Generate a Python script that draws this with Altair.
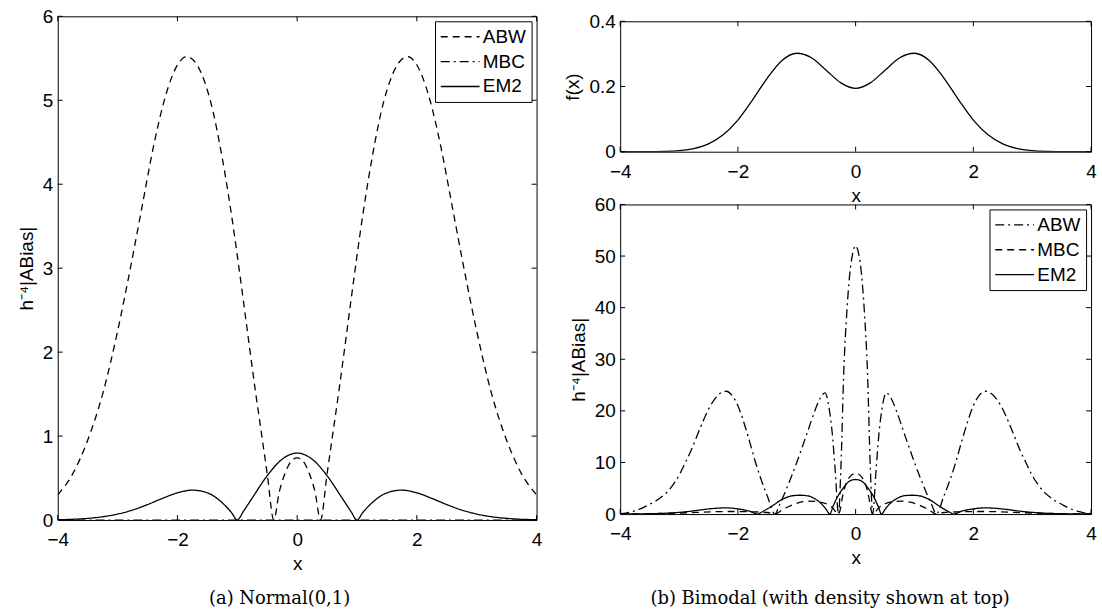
import altair as alt
import pandas as pd

SANS = "Liberation Sans"
SERIF = "DejaVu Serif"
FS = 19

# ---------------- (a) Normal(0,1) ----------------
a_abw_x = [-4.0, -3.75, -3.5, -3.25, -3.0, -2.8, -2.6, -2.4, -2.2, -2.0, -1.85, -1.7, -1.6, -1.5, -1.4,
           -1.3, -1.2, -1.1, -1.0, -0.9, -0.8, -0.7, -0.6, -0.5, -0.39, -0.3, -0.2, -0.1, 0.0,
           0.1, 0.2, 0.3, 0.39, 0.5, 0.6, 0.7, 0.8, 0.9, 1.0, 1.1, 1.2, 1.3, 1.4, 1.5, 1.6, 1.7,
           1.85, 2.0, 2.2, 2.4, 2.6, 2.8, 3.0, 3.25, 3.5, 3.75, 4.0]
a_abw_y = [0.3, 0.55, 0.95, 1.5, 2.25, 2.95, 3.7, 4.45, 5.05, 5.42, 5.52, 5.45, 5.32, 5.12, 4.85,
           4.5, 4.1, 3.65, 3.15, 2.62, 2.08, 1.55, 1.05, 0.55, 0.0, 0.33, 0.56, 0.7, 0.74,
           0.7, 0.56, 0.33, 0.0, 0.55, 1.05, 1.55, 2.08, 2.62, 3.15, 3.65, 4.1, 4.5, 4.85, 5.12, 5.32, 5.45,
           5.52, 5.42, 5.05, 4.45, 3.7, 2.95, 2.25, 1.5, 0.95, 0.55, 0.3]
a_mbc_x = [-4.0, -2.0, 0.0, 2.0, 4.0]
a_mbc_y = [0.0, 0.0, 0.0, 0.0, 0.0]
a_em2_x = [-4.0, -3.75, -3.5, -3.25, -3.0, -2.75, -2.5, -2.25, -2.0, -1.75, -1.5, -1.25, -1.1, -1.0,
           -0.9, -0.75, -0.5, -0.25, 0.0, 0.25, 0.5, 0.75, 0.9, 1.0, 1.1, 1.25, 1.5, 1.75, 2.0,
           2.25, 2.5, 2.75, 3.0, 3.25, 3.5, 3.75, 4.0]
a_em2_y = [0.004, 0.009, 0.02, 0.039, 0.071, 0.119, 0.184, 0.258, 0.324, 0.356, 0.324, 0.205, 0.092, 0.0,
           0.101, 0.263, 0.528, 0.725, 0.798, 0.725, 0.528, 0.263, 0.101, 0.0, 0.092, 0.205, 0.324, 0.356, 0.324,
           0.258, 0.184, 0.119, 0.071, 0.039, 0.02, 0.009, 0.004]

# ---------------- (b) Bimodal: density ----------------
dens_x = [-4.0, -3.75, -3.5, -3.25, -3.0, -2.75, -2.5, -2.25, -2.0, -1.75, -1.5, -1.25, -1.0, -0.75, -0.5, -0.25,
          0.0, 0.25, 0.5, 0.75, 1.0, 1.25, 1.5, 1.75, 2.0, 2.25, 2.5, 2.75, 3.0, 3.25, 3.5, 3.75, 4.0]
dens_y = [0.00002, 0.0001, 0.0003, 0.001, 0.0033, 0.0095, 0.024, 0.052, 0.097, 0.159, 0.226, 0.280, 0.302, 0.288,
          0.250, 0.211, 0.194, 0.211, 0.250, 0.288, 0.302, 0.280, 0.226, 0.159, 0.097, 0.052, 0.024, 0.0095,
          0.0033, 0.001, 0.0003, 0.0001, 0.00002]

# ---------------- (b) Bimodal: bias ----------------
b_abw_x = [-4.0, -3.9, -3.8, -3.7, -3.6, -3.5, -3.4, -3.3, -3.2, -3.1, -3.0, -2.9, -2.8, -2.7, -2.6, -2.5,
           -2.4, -2.3, -2.2, -2.1, -2.0, -1.9, -1.8, -1.7, -1.6, -1.5, -1.37, -1.3, -1.2, -1.1, -1.0,
           -0.9, -0.8, -0.7, -0.6, -0.52, -0.45, -0.4, -0.35, -0.29, -0.25, -0.2, -0.15, -0.1, -0.05,
           0.0, 0.05, 0.1, 0.15, 0.2, 0.25, 0.29, 0.35, 0.4, 0.45, 0.52, 0.6, 0.7, 0.8, 0.9, 1.0,
           1.1, 1.2, 1.3, 1.37, 1.5, 1.6, 1.7, 1.8, 1.9, 2.0, 2.1, 2.2, 2.3, 2.4, 2.5, 2.6, 2.7,
           2.8, 2.9, 3.0, 3.1, 3.2, 3.3, 3.4, 3.5, 3.6, 3.7, 3.8, 3.9, 4.0]
b_abw_y = [0.08, 0.2, 0.45, 0.8, 1.3, 1.9, 2.5, 3.3, 4.3, 5.7, 7.5, 9.8, 12.2, 15.0, 17.8, 20.3,
           22.2, 23.4, 23.8, 23.0, 21.0, 17.8, 14.0, 10.0, 6.5, 3.5, 0.0, 1.6, 4.2, 7.0, 10.0,
           13.2, 16.5, 19.8, 22.5, 23.5, 20.5, 16.0, 9.0, 0.0, 9.0, 28.0, 39.0, 46.5, 50.5,
           52.0, 50.5, 46.5, 39.0, 28.0, 9.0, 0.0, 9.0, 16.0, 20.5, 23.5, 22.5, 19.8, 16.5, 13.2, 10.0,
           7.0, 4.2, 1.6, 0.0, 3.5, 6.5, 10.0, 14.0, 17.8, 21.0, 23.0, 23.8, 23.4, 22.2, 20.3, 17.8, 15.0,
           12.2, 9.8, 7.5, 5.7, 4.3, 3.3, 2.5, 1.9, 1.3, 0.8, 0.45, 0.2, 0.08]
b_mbc_x = [-4.0, -3.4, -3.0, -2.7, -2.4, -2.1, -1.8, -1.5, -1.37, -1.25, -1.1, -0.95, -0.8, -0.65, -0.5,
           -0.4, -0.29, -0.2, -0.1, 0.0, 0.1, 0.2, 0.29, 0.4, 0.5, 0.65, 0.8, 0.95, 1.1, 1.25, 1.37,
           1.5, 1.8, 2.1, 2.4, 2.7, 3.0, 3.4, 4.0]
b_mbc_y = [0.02, 0.08, 0.2, 0.33, 0.45, 0.5, 0.45, 0.3, 0.0, 0.8, 1.65, 2.25, 2.5, 2.4, 2.0,
           1.3, 0.0, 4.6, 7.2, 7.9, 7.2, 4.6, 0.0, 1.3, 2.0, 2.4, 2.5, 2.25, 1.65, 0.8, 0.0,
           0.3, 0.45, 0.5, 0.45, 0.33, 0.2, 0.08, 0.02]
b_em2_x = [-4.0, -3.8, -3.6, -3.4, -3.2, -3.0, -2.8, -2.6, -2.4, -2.2, -2.0, -1.8, -1.66, -1.6, -1.5,
           -1.4, -1.3, -1.2, -1.1, -0.95, -0.8, -0.7, -0.6, -0.5, -0.44, -0.38, -0.3, -0.2, -0.1,
           0.0, 0.1, 0.2, 0.3, 0.38, 0.44, 0.5, 0.6, 0.7, 0.8, 0.95, 1.1, 1.2, 1.3, 1.4, 1.5,
           1.6, 1.66, 1.8, 2.0, 2.2, 2.4, 2.6, 2.8, 3.0, 3.2, 3.4, 3.6, 3.8, 4.0]
b_em2_y = [0.01, 0.02, 0.04, 0.09, 0.18, 0.33, 0.55, 0.85, 1.1, 1.2, 1.0, 0.55, 0.0, 0.35, 1.0,
           1.7, 2.5, 3.1, 3.5, 3.65, 3.5, 3.0, 2.2, 0.9, 0.0, 1.6, 3.5, 5.2, 6.4,
           6.7, 6.4, 5.2, 3.5, 1.6, 0.0, 0.9, 2.2, 3.0, 3.5, 3.65, 3.5, 3.1, 2.5, 1.7, 1.0,
           0.35, 0.0, 0.55, 1.0, 1.2, 1.1, 0.85, 0.55, 0.33, 0.18, 0.09, 0.04, 0.02, 0.01]

x_ticks = [-4, -2, 0, 2, 4]
a_y_ticks = [0, 1, 2, 3, 4, 5, 6]
dens_y_ticks = [0, 0.2, 0.4]
b_y_ticks = [0, 10, 20, 30, 40, 50, 60]

DASH = [7, 5]
DASHDOT = [9, 4, 2, 4]
SOLID = [1, 0]
LW = 1.3
TICK = 5
YTITLE = "h\u207b\u2074|ABias|"


def series_frame(parts):
    rows = []
    for name, xs, ys in parts:
        for i, (xv, yv) in enumerate(zip(xs, ys)):
            rows.append({"x": xv, "y": yv, "s": name, "i": i})
    return pd.DataFrame(rows)


def panel(df, ydomain, yticks, W, H, ytitle, ylabel_expr=None, dash_domain=None, dash_range=None):
    xscale = alt.Scale(domain=[-4, 4], nice=False, zero=False)
    yscale = alt.Scale(domain=ydomain, nice=False, zero=False)
    xaxis = alt.Axis(values=x_ticks, title="x", labelPadding=11, titlePadding=5)
    yargs = dict(values=yticks, title=ytitle, labelPadding=5, titlePadding=6)
    if ylabel_expr:
        yargs["labelExpr"] = ylabel_expr
    yaxis = alt.Axis(**yargs)

    enc = dict(
        x=alt.X("x:Q", scale=xscale, axis=xaxis),
        y=alt.Y("y:Q", scale=yscale, axis=yaxis),
        order=alt.Order("i:Q"),
    )
    if dash_domain:
        enc["strokeDash"] = alt.StrokeDash(
            "s:N",
            scale=alt.Scale(domain=dash_domain, range=dash_range),
            legend=alt.Legend(
                orient="top-right", offset=5, title=None, symbolType="M-1,0L3,0",
                symbolSize=380, symbolStrokeWidth=LW, symbolStrokeColor="black",
                labelFont=SANS, labelFontSize=FS, labelColor="black", labelOffset=22,
                fillColor="white", strokeColor="black", padding=5, rowPadding=4,
            ),
        )
    else:
        enc["detail"] = alt.Detail("s:N")
    lines = alt.Chart(df).mark_line(
        color="black", strokeWidth=LW, interpolate="monotone", clip=True
    ).encode(**enc)

    xt = pd.DataFrame({"x": x_ticks})
    yt = pd.DataFrame({"y": yticks})
    X = alt.X("x:Q", scale=xscale, axis=xaxis)
    Y = alt.Y("y:Q", scale=yscale, axis=yaxis)
    tb = alt.Chart(xt).mark_rule(color="black", strokeWidth=1).encode(
        x=X, y=alt.value(H), y2=alt.value(H - TICK))
    tt = alt.Chart(xt).mark_rule(color="black", strokeWidth=1).encode(
        x=X, y=alt.value(0), y2=alt.value(TICK))
    tl = alt.Chart(yt).mark_rule(color="black", strokeWidth=1).encode(
        y=Y, x=alt.value(0), x2=alt.value(TICK))
    tr = alt.Chart(yt).mark_rule(color="black", strokeWidth=1).encode(
        y=Y, x=alt.value(W), x2=alt.value(W - TICK))
    return alt.layer(lines, tb, tt, tl, tr).properties(width=W, height=H)


df_a = series_frame([("ABW", a_abw_x, a_abw_y), ("MBC", a_mbc_x, a_mbc_y), ("EM2", a_em2_x, a_em2_y)])
df_d = series_frame([("f", dens_x, dens_y)])
df_b = series_frame([("ABW", b_abw_x, b_abw_y), ("MBC", b_mbc_x, b_mbc_y), ("EM2", b_em2_x, b_em2_y)])

left = panel(df_a, [0, 6], a_y_ticks, 481, 506, YTITLE,
             dash_domain=["ABW", "MBC", "EM2"], dash_range=[DASH, DASHDOT, SOLID]).properties(
    title=alt.TitleParams("(a) Normal(0,1)", orient="bottom", font=SERIF, fontSize=18,
                          fontWeight="normal", color="black", anchor="middle", frame="bounds", offset=16))

top = panel(df_d, [0, 0.4], dens_y_ticks, 473, 131, "f(x)",
            ylabel_expr="datum.value == 0 ? '0' : format(datum.value, '.1f')")
bottom = panel(df_b, [0, 60], b_y_ticks, 473, 311, YTITLE,
               dash_domain=["ABW", "MBC", "EM2"], dash_range=[DASHDOT, DASH, SOLID])

spacer_df = pd.DataFrame({"v": [0]})
spacer = alt.Chart(spacer_df).mark_point(opacity=0).encode(
    x=alt.X("v:Q", axis=None), y=alt.Y("v:Q", axis=None)
).properties(width=473, height=1, view=alt.ViewBackground(stroke=None))

inner = alt.vconcat(top, bottom, spacing=53, bounds="flush").resolve_scale(strokeDash="independent")
right = alt.vconcat(spacer, inner, spacing=4, bounds="flush").resolve_scale(
    strokeDash="independent"
).properties(
    title=alt.TitleParams("(b) Bimodal (with density shown at top)", orient="bottom", font=SERIF,
                          fontSize=18, fontWeight="normal", color="black", anchor="middle",
                          frame="bounds", offset=22))

chart = alt.hconcat(left, right, spacing=84, bounds="flush").resolve_scale(
    strokeDash="independent"
).properties(
    padding={"left": 16, "top": 5, "right": 5, "bottom": 5}, background="white"
).configure_view(
    stroke="black", strokeWidth=1
).configure_axis(
    ticks=False, domain=False, grid=False,
    labelFont=SANS, labelFontSize=FS, labelColor="black",
    titleFont=SANS, titleFontSize=FS, titleFontWeight="normal", titleColor="black",
    labelFlush=False, labelOverlap=False,
)

chart.save("out.html", embed_options={"renderer": "svg", "actions": False})
